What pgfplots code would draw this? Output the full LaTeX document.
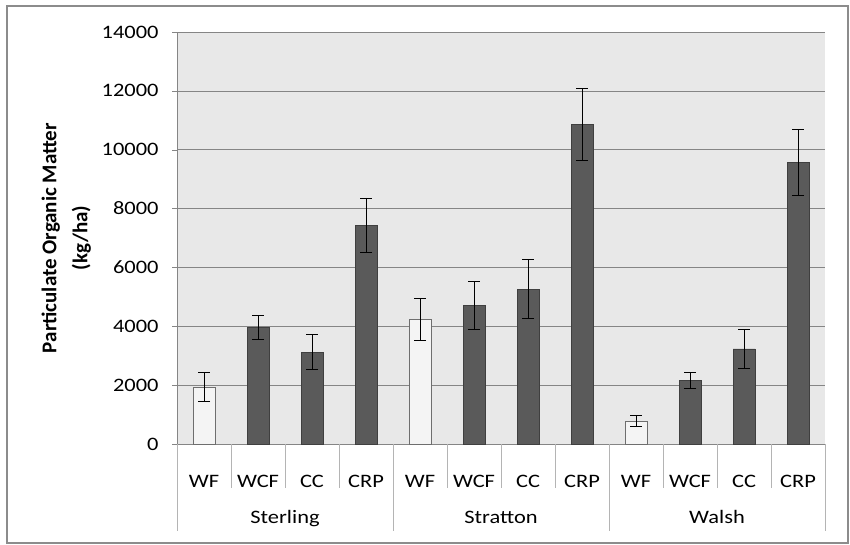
\documentclass[border=0pt]{standalone}
\usepackage{fontspec}
\setmainfont{Carlito}[FakeStretch=1.18]
\newfontfamily\labelfont{Carlito}
\usepackage{pgfplots}
\pgfplotsset{compat=1.18}

\definecolor{plotbg}{HTML}{E8E8E8}
\definecolor{gridc}{HTML}{858585}
\definecolor{darkbar}{HTML}{5A5A5A}
\definecolor{darkedge}{HTML}{3F3F3F}
\definecolor{lightbar}{HTML}{F4F4F4}
\definecolor{lightedge}{HTML}{6E6E6E}
\definecolor{sepc}{HTML}{B4B4B4}
\definecolor{framec}{HTML}{8C8C8C}

\begin{document}
\begin{tikzpicture}
\path[use as bounding box] (0,0) rectangle (850pt,545pt);
\draw[framec, line width=1.5pt] (7pt,2pt) rectangle (848pt,539pt);
\begin{axis}[
    at={(177pt,101pt)}, anchor=south west,
    width=648pt, height=412pt, scale only axis,
    xmin=-0.5, xmax=11.5,
    ymin=0, ymax=14000,
    ytick distance=2000,
    scaled y ticks=false,
    xtick={0,...,11},
    xticklabels={WF,WCF,CC,CRP,WF,WCF,CC,CRP,WF,WCF,CC,CRP},
    axis lines=left,
    axis line style={-, gridc},
    axis background/.style={fill=plotbg},
    ymajorgrids=true,
    grid style={gridc, line width=0.6pt},
    tick align=outside,
    major tick length=5pt,
    xtick style={draw=none},
    ytick style={gridc},
    clip=false,
    /pgf/number format/assume math mode=true,
    /pgf/number format/1000 sep={},
    tick label style={font=\fontsize{19}{23}\selectfont},
    yticklabel style={anchor=east, xshift=-10pt},
    xticklabel style={anchor=base, yshift=-39pt},
    ylabel={Particulate Organic Matter\\(kg/ha)},
    ylabel style={at={(axis description cs:-0.171,0.5)}, anchor=center,
        align=center, font=\labelfont\bfseries\fontsize{21}{31}\selectfont},
    ybar, bar width=22pt, bar shift=0pt,
    error bars/y dir=both, error bars/y explicit,
    error bars/error mark options={black, rotate=90, mark size=6pt, line width=0.7pt},
    error bars/error bar style={black, line width=0.7pt},
]
% WF bars
\addplot[fill=lightbar, draw=lightedge, line width=0.8pt] coordinates {
    (0,1940) +- (0,490)
    (4,4235) +- (0,700)
    (8,780) +- (0,190)
};
% WCF, CC, CRP bars
\addplot[fill=darkbar, draw=darkedge, line width=0.8pt] coordinates {
    (1,3950) +- (0,410)
    (2,3125) +- (0,600)
    (3,7440) +- (0,920)
    (5,4720) +- (0,810)
    (6,5265) +- (0,1000)
    (7,10860) +- (0,1220)
    (9,2150) +- (0,270)
    (10,3230) +- (0,670)
    (11,9580) +- (0,1120)
};
% category separators below the axis
\pgfplotsinvokeforeach{0.5,1.5,2.5,4.5,5.5,6.5,8.5,9.5,10.5}{
    \draw[sepc, line width=0.8pt] (axis cs:#1,0) -- ++(0pt,-44pt);
}
\pgfplotsinvokeforeach{-0.5,3.5,7.5,11.5}{
    \draw[sepc, line width=0.8pt] (axis cs:#1,0) -- ++(0pt,-87pt);
}
\node[anchor=base, font=\fontsize{19}{23}\selectfont] at ([yshift=-80pt]axis cs:1.5,0) {Sterling};
\node[anchor=base, font=\fontsize{19}{23}\selectfont] at ([yshift=-80pt]axis cs:5.5,0) {Stratton};
\node[anchor=base, font=\fontsize{19}{23}\selectfont] at ([yshift=-80pt]axis cs:9.5,0) {Walsh};
\end{axis}
\end{tikzpicture}
\end{document}
